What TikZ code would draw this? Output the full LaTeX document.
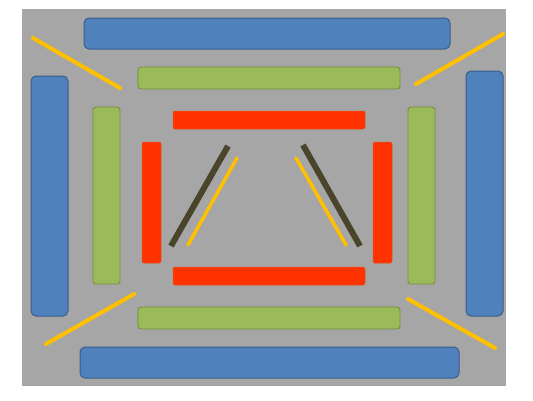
\documentclass[tikz,border=0pt]{standalone}
\definecolor{bgGray}{HTML}{A6A6A6}
\definecolor{barBlue}{HTML}{4F81BD}
\definecolor{barBlueEdge}{HTML}{385D8A}
\definecolor{barGreen}{HTML}{9BBB59}
\definecolor{barGreenEdge}{HTML}{71893F}
\definecolor{barRed}{HTML}{FF3300}
\definecolor{barRedEdge}{HTML}{E0501A}
\definecolor{lineYellow}{HTML}{FFC000}
\definecolor{lineDark}{HTML}{4A452A}
\tikzset{
  bluebar/.style={fill=barBlue, draw=barBlueEdge, line width=1pt, rounded corners=5pt},
  greenbar/.style={fill=barGreen, draw=barGreenEdge, line width=0.8pt, rounded corners=3pt},
  redbar/.style={fill=barRed, draw=barRedEdge, line width=0.5pt, rounded corners=2pt},
  yline/.style={draw=lineYellow, line width=4pt, line cap=round},
  yinner/.style={draw=lineYellow, line width=3.5pt, line cap=round},
  dline/.style={draw=lineDark, line width=6pt}
}
\begin{document}
\begin{tikzpicture}[x=1pt,y=-1pt]
\useasboundingbox (0,0) rectangle (533,400);
\fill[white] (0,0) rectangle (533,400);
\fill[bgGray] (22,9) rectangle (506,386);
% blue bars
\path[bluebar] (84,18) rectangle (450,49);
\path[bluebar] (80,347) rectangle (459,378);
\path[bluebar] (31,76) rectangle (68,316);
\path[bluebar] (466,71) rectangle (503,316);
% green bars
\path[greenbar] (138,67) rectangle (400,89);
\path[greenbar] (138,307) rectangle (400,329);
\path[greenbar] (93,107) rectangle (120,284);
\path[greenbar] (408,107) rectangle (435,284);
% red bars
\path[redbar] (173,111) rectangle (365,129);
\path[redbar] (173,267) rectangle (365,285);
\path[redbar] (142,142) rectangle (161,263);
\path[redbar] (373,142) rectangle (392,263);
% outer yellow lines
\path[yline] (33,38) -- (120,88);
\path[yline] (503,34) -- (416,84);
\path[yline] (46,344) -- (134,294);
\path[yline] (408,299) -- (495,348);
% inner dark and yellow lines
\path[dline] (171,246) -- (228,146);
\path[dline] (303,145) -- (360,246);
\path[yinner] (188,245) -- (237,158);
\path[yinner] (296,158) -- (346,245);
\end{tikzpicture}
\end{document}
